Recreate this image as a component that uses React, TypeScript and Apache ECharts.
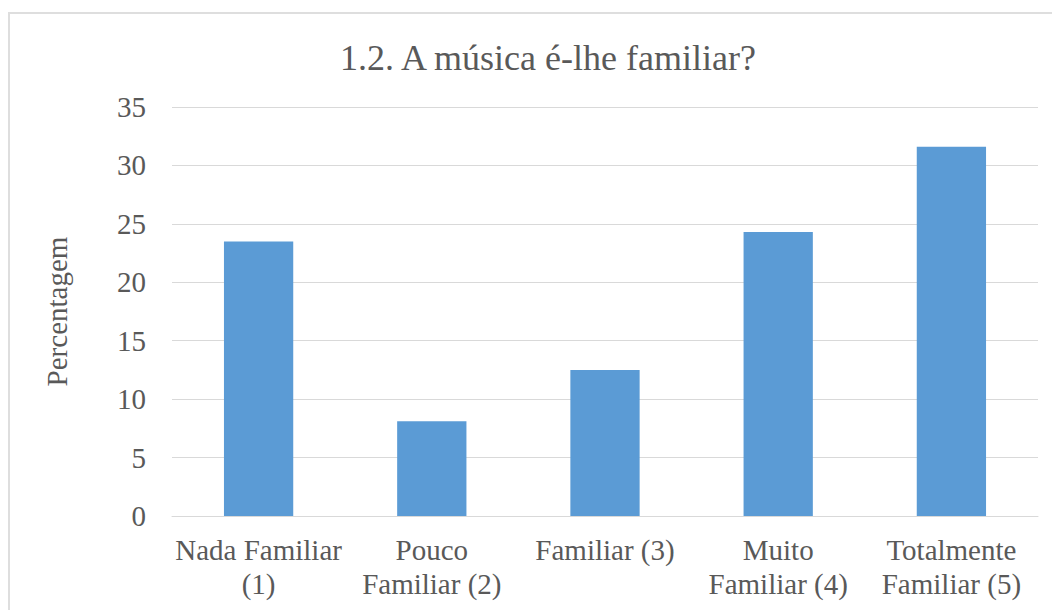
import React, { useEffect, useRef } from "react";
import * as echarts from "echarts";

const categories = [
  "Nada Familiar\n(1)",
  "Pouco\nFamiliar (2)",
  "Familiar (3)",
  "Muito\nFamiliar (4)",
  "Totalmente\nFamiliar (5)",
];
const values = [23.5, 8.1, 12.5, 24.3, 31.6];
const titleText = "1.2. A música é-lhe familiar?";
const yAxisName = "Percentagem";

export default function App() {
  const ref = useRef<HTMLDivElement>(null);
  useEffect(() => {
    document.body.style.margin = "0";
    const chart = echarts.init(ref.current!, null, { renderer: "svg" });
    const font = "'Liberation Serif', 'Times New Roman', serif";
    chart.setOption({
      animation: false,
      backgroundColor: "#ffffff",
      textStyle: { fontFamily: font },
      title: {
        text: titleText,
        left: 543,
        textAlign: "center",
        top: 35,
        textStyle: { fontFamily: font, fontSize: 36, fontWeight: "normal", color: "#595959" },
      },
      graphic: [
        {
          type: "rect",
          shape: { x: 9, y: 13, width: 1100, height: 700 },
          style: { fill: "none", stroke: "#dedede", lineWidth: 2 },
          silent: true,
        },
      ],
      grid: { left: 172, right: 14, top: 107, bottom: 94, containLabel: false },
      xAxis: {
        type: "category",
        data: categories,
        axisLine: { show: true, lineStyle: { color: "#d9d9d9", width: 1 } },
        axisTick: { show: false },
        axisLabel: {
          fontFamily: font,
          fontSize: 29,
          color: "#595959",
          margin: 17,
          lineHeight: 34,
          interval: 0,
        },
      },
      yAxis: {
        type: "value",
        min: 0,
        max: 35,
        interval: 5,
        name: yAxisName,
        nameLocation: "middle",
        nameGap: 101,
        nameRotate: 90,
        nameTextStyle: { fontFamily: font, fontSize: 29, color: "#595959" },
        axisLine: { show: false },
        axisTick: { show: false },
        axisLabel: { fontFamily: font, fontSize: 29, color: "#595959", margin: 26 },
        splitLine: { lineStyle: { color: "#d9d9d9", width: 1 } },
      },
      series: [
        {
          type: "bar",
          data: values,
          barWidth: "40%",
          itemStyle: { color: "#5b9bd5" },
        },
      ],
    });
    return () => chart.dispose();
  }, []);
  return <div ref={ref} style={{ width: 1052, height: 610 }} />;
}
